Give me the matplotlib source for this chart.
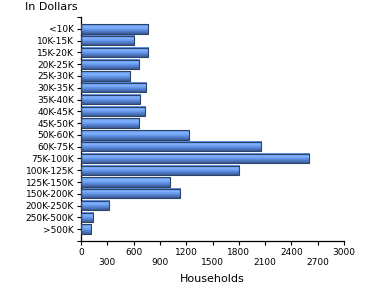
import numpy as np
import matplotlib
matplotlib.use("Agg")
import matplotlib.pyplot as plt
from matplotlib.colors import LinearSegmentedColormap

categories = ["<10K", "10K-15K", "15K-20K", "20K-25K", "25K-30K", "30K-35K",
              "35K-40K", "40K-45K", "45K-50K", "50K-60K", "60K-75K", "75K-100K",
              "100K-125K", "125K-150K", "150K-200K", "200K-250K", "250K-500K", ">500K"]
households = [766, 606, 766, 664, 561, 743, 675, 732, 664, 1234, 2055, 2603,
              1804, 1017, 1131, 321, 139, 116]
xticks = [0, 300, 600, 900, 1200, 1500, 1800, 2100, 2400, 2700, 3000]

fig = plt.figure(figsize=(3.7, 3.0), dpi=100)
ax = fig.add_axes([0.219, 0.197, 0.711, 0.746])

cmap = LinearSegmentedColormap.from_list(
    "bar", ["#5a88d8", "#72a4f4", "#82b2ff", "#6d9ef0", "#5a88d8", "#4a70b8", "#3a5a90"])
grad = np.linspace(0, 1, 64).reshape(-1, 1)

n = len(categories)
ypos = np.arange(n)
h = 0.8
for y, v in zip(ypos, households):
    ax.imshow(grad, extent=(0, v, y + h / 2, y - h / 2), cmap=cmap,
              aspect="auto", origin="upper", interpolation="bilinear", zorder=2)
ax.barh(ypos, households, height=h, facecolor="none", edgecolor="#2c4468",
        linewidth=0.8, zorder=3)

ax.set_xlim(0, 3000)
ax.set_ylim(n, -1)
ax.set_yticks(ypos)
ax.set_yticklabels(categories)
ax.set_yticks([-1, n], minor=True)
ax.tick_params(axis="y", which="minor", length=3, width=0.8)
ax.set_xticks(xticks)
labels = []
for i, t in enumerate(xticks):
    labels.append(str(t) if i % 2 == 0 else "\n" + str(t))
ax.set_xticklabels(labels)
ax.tick_params(axis="both", which="major", length=3, width=0.8, labelsize=6.5,
               pad=2, colors="black")
for s in ["top", "right"]:
    ax.spines[s].set_visible(False)
for s in ["left", "bottom"]:
    ax.spines[s].set_linewidth(0.9)
ax.set_xlabel("Households", fontsize=8, labelpad=5)
fig.text(0.068, 0.995, "In Dollars", fontsize=8, ha="left", va="top")

fig.savefig("out.png", dpi=100)
